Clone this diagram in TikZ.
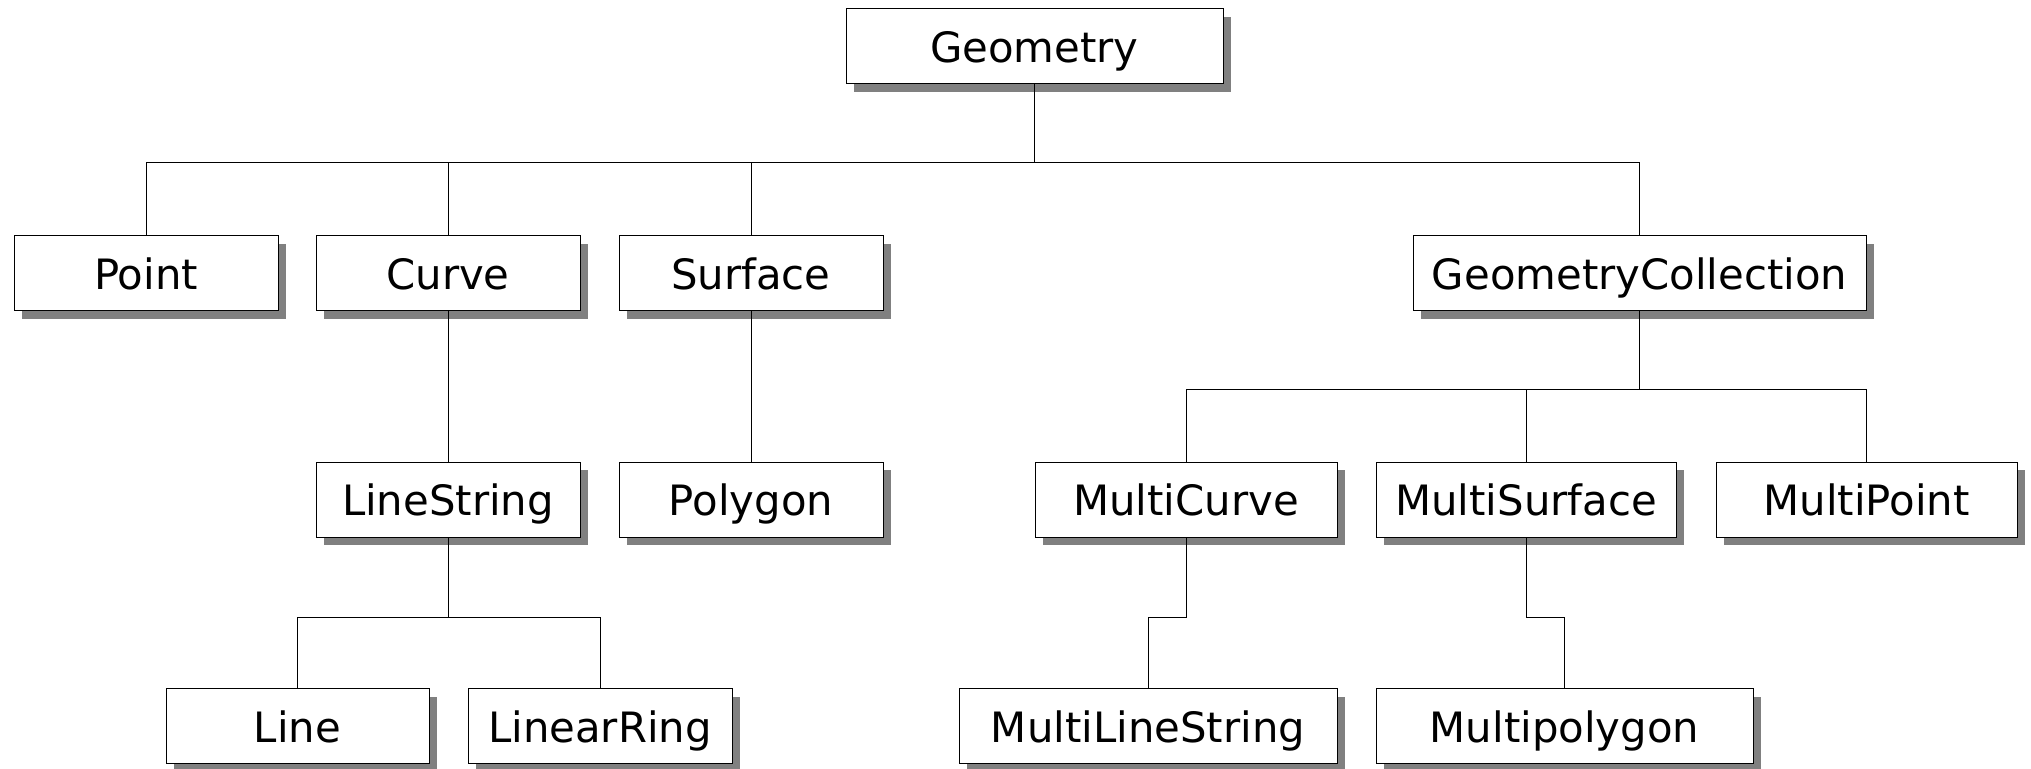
\documentclass[tikz,border=0pt]{standalone}
\usepackage{fontspec}
\setmainfont{DejaVu Sans}
\usetikzlibrary{shadows}
\begin{document}
\begin{tikzpicture}[x=0.5pt,y=-0.5pt,
  cls/.style={draw=black, line width=0.5pt, fill=white, minimum height=37.5pt, inner sep=0pt,
    font=\fontsize{20.9}{24}\selectfont, text height=15.6pt, text depth=0pt,
    drop shadow={shadow xshift=4pt, shadow yshift=-4pt, fill=black!50, opacity=1}},
  link/.style={draw=black, line width=0.5pt}]
\useasboundingbox (0,0) rectangle (2031,769);
% row 0
\node[cls, minimum width=188.5pt] (geo) at (1034.5,46.5) {Geometry};
% row 1
\node[cls, minimum width=132pt] (point) at (146,273.5) {Point};
\node[cls, minimum width=132pt] (curve) at (448,273.5) {Curve};
\node[cls, minimum width=132pt] (surf) at (751,273.5) {Surface};
\node[cls, minimum width=226.5pt] (gc) at (1639.5,273.5) {GeometryCollection};
% row 2
\node[cls, minimum width=132pt] (ls) at (448,500) {LineString};
\node[cls, minimum width=132pt] (poly) at (751,500) {Polygon};
\node[cls, minimum width=151pt] (mc) at (1186,500) {MultiCurve};
\node[cls, minimum width=150pt] (ms) at (1526,500) {MultiSurface};
\node[cls, minimum width=150.5pt] (mp) at (1866.5,500) {MultiPoint};
% row 3
\node[cls, minimum width=131.5pt] (line) at (297.5,726.5) {Line};
\node[cls, minimum width=132pt] (lr) at (600,726.5) {LinearRing};
\node[cls, minimum width=189pt] (mls) at (1148,726.5) {MultiLineString};
\node[cls, minimum width=188.5pt] (mpg) at (1564.5,726.5) {Multipolygon};
% bus levels
\coordinate (busA) at (0,163);
\coordinate (busB) at (0,390);
\coordinate (busC) at (0,618);
% connectors
\foreach \c in {point,curve,surf,gc}
  \draw[link] (geo.south) -- (geo.south |- busA) -| (\c.north);
\draw[link] (curve.south) -- (ls.north);
\draw[link] (surf.south) -- (poly.north);
\foreach \c in {mc,ms,mp}
  \draw[link] (gc.south) -- (gc.south |- busB) -| (\c.north);
\foreach \c in {line,lr}
  \draw[link] (ls.south) -- (ls.south |- busC) -| (\c.north);
\draw[link] (mc.south) -- (mc.south |- busC) -| (mls.north);
\draw[link] (ms.south) -- (ms.south |- busC) -| (mpg.north);
\end{tikzpicture}
\end{document}
